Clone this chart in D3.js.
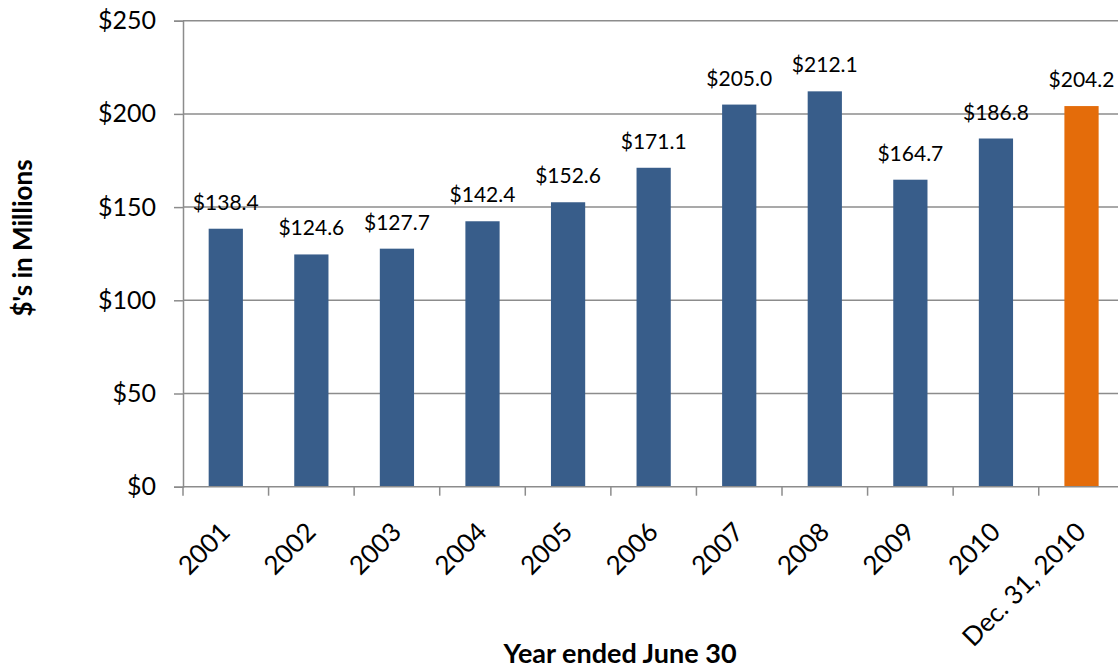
<!DOCTYPE html>
<html>
<head>
<meta charset="utf-8">
<script src="https://cdn.jsdelivr.net/npm/d3@7"></script>
<style>
  html, body { margin: 0; padding: 0; background: #fff; }
  svg { display: block; font-family: Lato, "Open Sans", sans-serif; }
</style>
</head>
<body>
<svg id="chart" width="1118" height="670"></svg>
<script>
// Revenue by fiscal year, $ millions
const categories = ["2001", "2002", "2003", "2004", "2005", "2006", "2007", "2008", "2009", "2010", "Dec. 31, 2010"];
const values = [138.4, 124.6, 127.7, 142.4, 152.6, 171.1, 205.0, 212.1, 164.7, 186.8, 204.2];
const yTicks = [0, 50, 100, 150, 200, 250];
const highlighted = ["Dec. 31, 2010"];

const svg = d3.select("#chart");
const plotLeft = 183, plotRight = 1124.3, plotTop = 20.7, plotBottom = 486.7;
const gridColor = "#8c8c8c";

const x = d3.scaleBand()
  .domain(categories)
  .range([plotLeft, plotRight])
  .paddingInner(0.6)
  .paddingOuter(0.3);

const y = d3.scaleLinear()
  .domain([0, 250])
  .range([plotBottom, plotTop]);

// Horizontal gridlines
svg.append("g")
  .selectAll("line")
  .data(yTicks.filter(d => d > 0))
  .join("line")
  .attr("x1", plotLeft).attr("x2", plotRight)
  .attr("y1", d => y(d)).attr("y2", d => y(d))
  .attr("stroke", gridColor).attr("stroke-width", 1.5);

// Bars
svg.append("g")
  .selectAll("rect")
  .data(categories.map((c, i) => ({ c, v: values[i] })))
  .join("rect")
  .attr("x", d => x(d.c))
  .attr("width", x.bandwidth())
  .attr("y", d => y(d.v))
  .attr("height", d => y(0) - y(d.v))
  .attr("fill", d => highlighted.includes(d.c) ? "#e46c0a" : "#385d8a");

// Value labels
svg.append("g")
  .selectAll("text")
  .data(categories.map((c, i) => ({ c, v: values[i] })))
  .join("text")
  .attr("x", d => x(d.c) + x.bandwidth() / 2)
  .attr("y", d => y(d.v) - 19)
  .attr("text-anchor", "middle")
  .attr("font-size", 21)
  .attr("fill", "#000")
  .text(d => "$" + d.v.toFixed(1));

// Y axis
const yAxis = svg.append("g")
  .attr("transform", `translate(${plotLeft},0)`)
  .call(d3.axisLeft(y).tickValues(yTicks).tickSize(9).tickPadding(18).tickFormat(d => "$" + d));
yAxis.select(".domain").attr("stroke", gridColor).attr("stroke-width", 1.5);
yAxis.selectAll(".tick line").attr("stroke", gridColor).attr("stroke-width", 1.5);
yAxis.selectAll(".tick text")
  .attr("font-family", "Lato, sans-serif")
  .attr("font-size", 25)
  .attr("fill", "#000");

// X axis baseline and boundary ticks
const step = x.step();
const boundaries = categories.map(c => x(c) - (step - x.bandwidth()) / 2).concat([plotRight]);
svg.append("line")
  .attr("x1", plotLeft).attr("x2", plotRight)
  .attr("y1", y(0)).attr("y2", y(0))
  .attr("stroke", gridColor).attr("stroke-width", 1.5);
svg.append("g")
  .selectAll("line")
  .data(boundaries)
  .join("line")
  .attr("x1", d => d).attr("x2", d => d)
  .attr("y1", y(0)).attr("y2", y(0) + 9)
  .attr("stroke", gridColor).attr("stroke-width", 1.5);

// Rotated category labels
svg.append("g")
  .selectAll("text")
  .data(categories)
  .join("text")
  .attr("transform", d => `translate(${x(d) + x.bandwidth() / 2 + 6},${plotBottom + 47}) rotate(-45)`)
  .attr("text-anchor", "end")
  .attr("font-size", 26)
  .attr("fill", "#000")
  .text(d => d);

// Axis titles
svg.append("text")
  .attr("x", 620).attr("y", 663)
  .attr("text-anchor", "middle")
  .attr("font-size", 27)
  .attr("font-weight", "bold")
  .text("Year ended June 30");

svg.append("text")
  .attr("transform", "translate(32,238) rotate(-90)")
  .attr("text-anchor", "middle")
  .attr("font-size", 26)
  .attr("font-weight", "bold")
  .text("$'s in Millions");
</script>
</body>
</html>
